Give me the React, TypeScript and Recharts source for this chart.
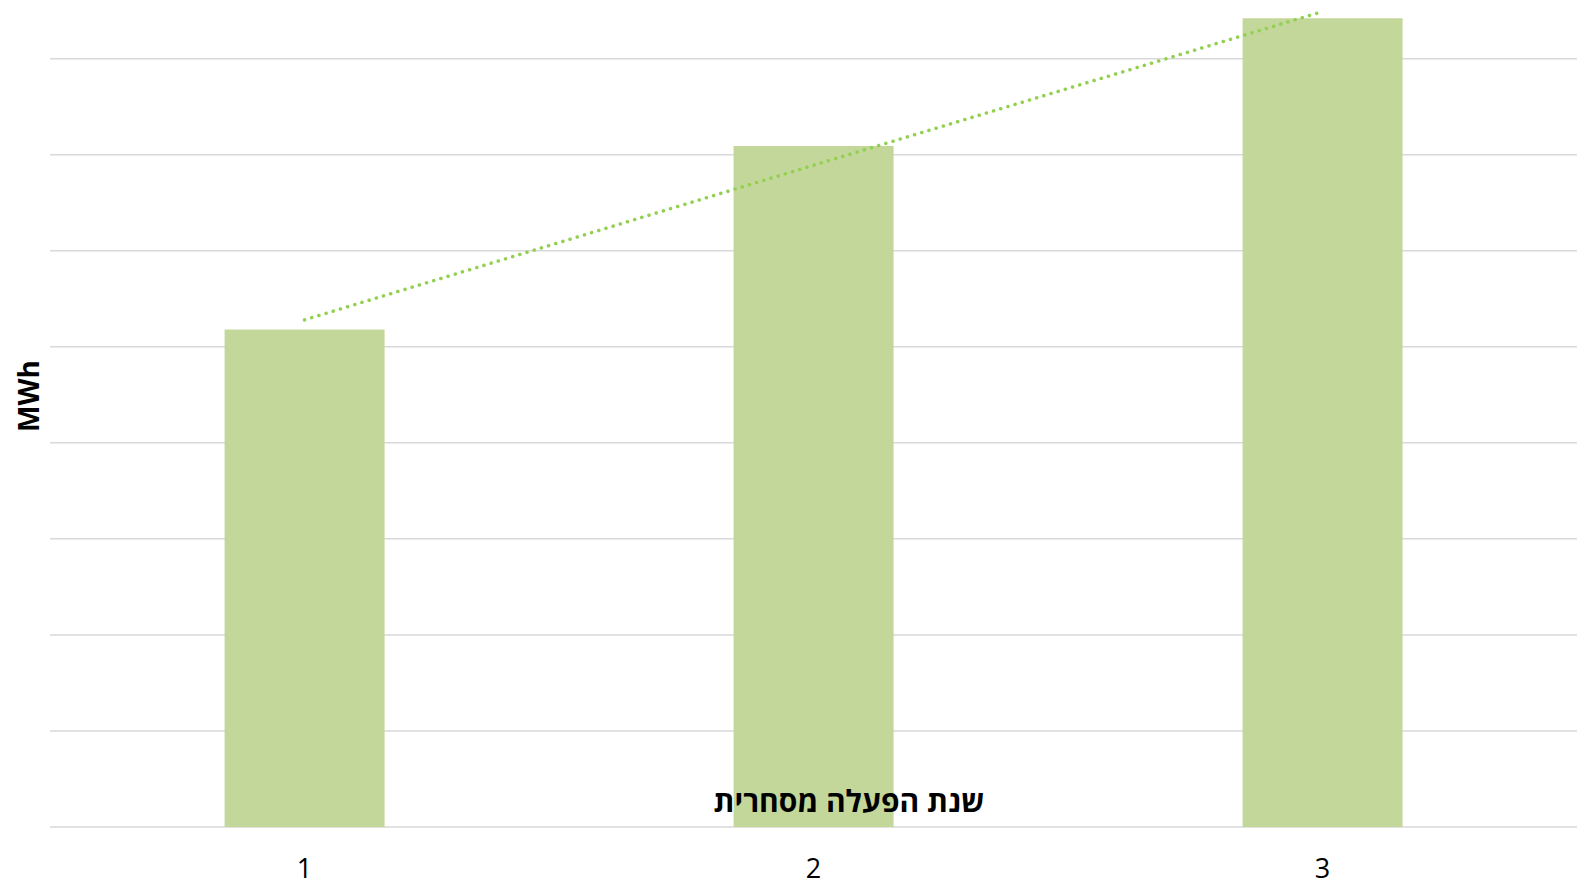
import React from 'react'
import { ComposedChart, Bar, Line, XAxis, YAxis, CartesianGrid } from 'recharts'

// operating years
const years = ['1', '2', '3']
// annual output
const output = [5180, 7090, 8420]
// dotted linear trend as drawn in the source
const trend = [5280, 6890, 8490]
const yTicks = [0, 1000, 2000, 3000, 4000, 5000, 6000, 7000, 8000]

const data = years.map((y, i) => ({ year: y, output: output[i], trend: trend[i] }))

const font = '"Open Sans", "DejaVu Sans", sans-serif'

export default function App() {
  return (
    <div style={{ position: 'absolute', left: 0, top: 0, width: 1583, height: 886, background: '#fff', fontFamily: font }}>
      <ComposedChart
        width={1583}
        height={886}
        data={data}
        margin={{ top: 1, right: 6, left: 50, bottom: 0 }}
        barCategoryGap="34.3%"
      >
        <CartesianGrid vertical={false} stroke="#d9d9d9" strokeWidth={1.5} horizontalValues={yTicks} />
        <XAxis
          dataKey="year"
          height={59}
          axisLine={false}
          tickLine={false}
          tick={{ fontSize: 27, fill: '#000', fontFamily: font }}
          tickMargin={26}
        />
        <YAxis hide domain={[0, 8600]} ticks={yTicks} />
        <Bar dataKey="output" fill="#c4d79b" isAnimationActive={false} />
        <Line
          type="linear"
          dataKey="trend"
          stroke="#92d050"
          strokeWidth={3.5}
          strokeDasharray="0.1 7.4"
          strokeLinecap="round"
          dot={false}
          activeDot={false}
          isAnimationActive={false}
        />
      </ComposedChart>
      <div
        style={{
          position: 'absolute',
          left: 28,
          top: 396,
          transform: 'translate(-50%, -50%) rotate(-90deg)',
          fontWeight: 700,
          fontSize: 28,
          color: '#000',
          whiteSpace: 'nowrap',
        }}
      >
        MWh
      </div>
      <div
        dir="rtl"
        style={{
          position: 'absolute',
          left: 849,
          top: 800,
          transform: 'translate(-50%, -50%)',
          fontWeight: 700,
          fontSize: 30,
          color: '#000',
          whiteSpace: 'nowrap',
        }}
      >
        שנת הפעלה מסחרית
      </div>
    </div>
  )
}
